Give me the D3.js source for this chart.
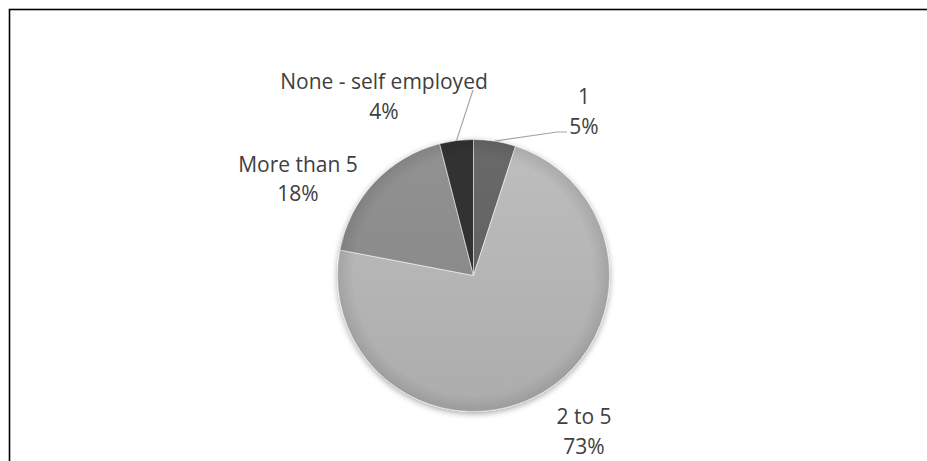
<!DOCTYPE html>
<html>
<head>
<meta charset="utf-8">
<script src="https://cdn.jsdelivr.net/npm/d3@7"></script>
<style>
  body { margin: 0; background: #fff; }
  svg { display: block; }
</style>
</head>
<body>
<script>
// Number of employees – share of respondents
const categories = ["1", "2 to 5", "More than 5", "None - self employed"];
const shares = [5, 73, 18, 4];
const shareLabels = ["5%", "73%", "18%", "4%"];

const W = 927, H = 461;
const cx = 473.5, cy = 275.5, R = 136;
const fills = ["#636363", "#b4b4b4", "#8a8a8a", "#2f2f2f"];

// label text centre x and first-line baseline y, relative to the pie centre
const labelPos = [[110.5, -171.5], [110.5, 148.5], [-175.5, -104], [-89.5, -186.5]];
// leader line bends/ends (relative to pie centre); null = no leader
const leaderPts = [[[83.5, -143.5], [93.5, -143.5]], null, null, [[-0.5, -185.5]]];

const svg = d3.select("body").append("svg")
  .attr("width", W).attr("height", H);

const defs = svg.append("defs");

// soft shadow under the pie
const shadow = defs.append("filter").attr("id", "pieShadow")
  .attr("x", "-20%").attr("y", "-20%").attr("width", "140%").attr("height", "140%");
shadow.append("feGaussianBlur").attr("in", "SourceAlpha").attr("stdDeviation", 3).attr("result", "b");
shadow.append("feOffset").attr("in", "b").attr("dy", 2).attr("result", "o");
shadow.append("feComponentTransfer").attr("in", "o").attr("result", "s")
  .append("feFuncA").attr("type", "linear").attr("slope", 0.35);
const merge = shadow.append("feMerge");
merge.append("feMergeNode").attr("in", "s");
merge.append("feMergeNode").attr("in", "SourceGraphic");

// per-slice vertical shading
fills.forEach((c, i) => {
  const g = defs.append("linearGradient").attr("id", "slice" + i)
    .attr("gradientUnits", "userSpaceOnUse")
    .attr("x1", 0).attr("y1", -R).attr("x2", 0).attr("y2", R);
  g.append("stop").attr("offset", "0%").attr("stop-color", d3.color(c).brighter(0.15));
  g.append("stop").attr("offset", "100%").attr("stop-color", d3.color(c).darker(0.12));
});

// rim darkening
const rim = defs.append("radialGradient").attr("id", "rim")
  .attr("gradientUnits", "userSpaceOnUse").attr("cx", 0).attr("cy", 0).attr("r", R);
rim.append("stop").attr("offset", "88%").attr("stop-color", "#000").attr("stop-opacity", 0);
rim.append("stop").attr("offset", "100%").attr("stop-color", "#000").attr("stop-opacity", 0.1);

// chart frame
svg.append("rect")
  .attr("x", 9.5).attr("y", 9.5).attr("width", W + 20).attr("height", H + 20)
  .attr("fill", "none").attr("stroke", "#000").attr("stroke-width", 1.6);

const pie = d3.pie().sort(null).value(d => d);
const arcs = pie(shares);
const arc = d3.arc().innerRadius(0).outerRadius(R);

const g = svg.append("g").attr("transform", `translate(${cx},${cy})`);

const pieG = g.append("g").attr("filter", "url(#pieShadow)");
pieG.selectAll("path.slice")
  .data(arcs)
  .join("path")
  .attr("class", "slice")
  .attr("d", arc)
  .attr("fill", (d, i) => `url(#slice${i})`)
  .attr("stroke", "#ffffff")
  .attr("stroke-opacity", 0.55)
  .attr("stroke-width", 1);

g.append("circle").attr("r", R).attr("fill", "url(#rim)").attr("pointer-events", "none");

// leader lines from slice rim to label
arcs.forEach((d, i) => {
  if (!leaderPts[i]) return;
  const mid = (d.startAngle + d.endAngle) / 2;
  const start = [R * Math.sin(mid), -R * Math.cos(mid)];
  g.append("path")
    .attr("d", d3.line()([start, ...leaderPts[i]]))
    .attr("fill", "none")
    .attr("stroke", "#a6a6a6")
    .attr("stroke-width", 1.2);
});

// data labels
const labels = g.selectAll("text.lbl")
  .data(arcs)
  .join("text")
  .attr("class", "lbl")
  .attr("x", (d, i) => labelPos[i][0])
  .attr("y", (d, i) => labelPos[i][1])
  .attr("text-anchor", "middle")
  .attr("font-family", "'Open Sans', sans-serif")
  .attr("font-size", 21)
  .attr("fill", "#404040");
labels.append("tspan")
  .attr("x", (d, i) => labelPos[i][0])
  .text((d, i) => categories[i]);
labels.append("tspan")
  .attr("x", (d, i) => labelPos[i][0])
  .attr("dy", 29.5)
  .text((d, i) => shareLabels[i]);
</script>
</body>
</html>
